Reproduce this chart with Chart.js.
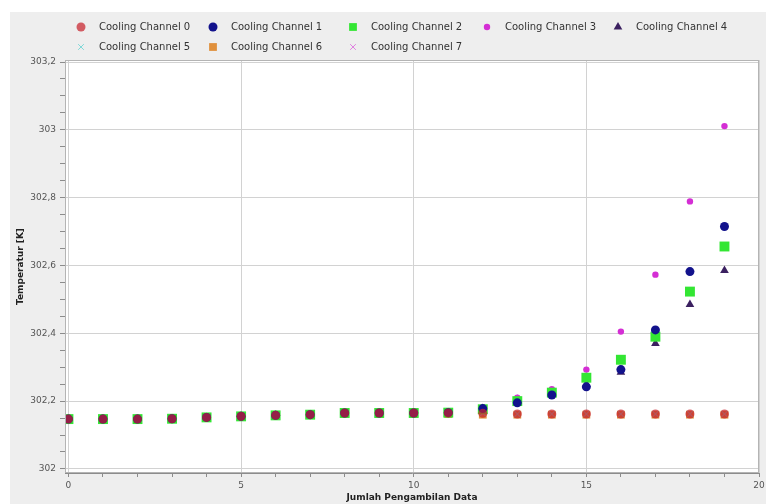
<!DOCTYPE html>
<html>
<head>
<meta charset="utf-8">
<script src="https://cdn.jsdelivr.net/npm/chart.js@4/dist/chart.umd.min.js"></script>
<style>
  html, body { margin: 0; padding: 0; background: #fff; }
  canvas { display: block; }
</style>
</head>
<body>
<canvas id="tempChart" width="766" height="504"></canvas>
<script>
// Pengambilan data ke-0 .. ke-19
const sampleIndex = [0, 1, 2, 3, 4, 5, 6, 7, 8, 9, 10, 11, 12, 13, 14, 15, 16, 17, 18, 19];

// Temperatur tiap channel [K]
const channel0 = [302.147, 302.147, 302.147, 302.148, 302.152, 302.155, 302.158, 302.16, 302.165, 302.165, 302.165, 302.165, 302.164, 302.162, 302.162, 302.162, 302.162, 302.162, 302.162, 302.162];
const channel1 = [302.147, 302.147, 302.147, 302.148, 302.152, 302.155, 302.158, 302.16, 302.165, 302.165, 302.165, 302.166, 302.178, 302.195, 302.218, 302.242, 302.293, 302.41, 302.582, 302.715];
const channel2 = [302.147, 302.147, 302.147, 302.148, 302.152, 302.155, 302.158, 302.16, 302.165, 302.165, 302.165, 302.166, 302.176, 302.2, 302.225, 302.269, 302.322, 302.39, 302.523, 302.656];
const channel3 = [302.147, 302.147, 302.147, 302.148, 302.152, 302.155, 302.158, 302.16, 302.165, 302.165, 302.165, 302.166, 302.18, 302.21, 302.235, 302.293, 302.405, 302.573, 302.789, 303.011];
const channel4 = [302.147, 302.147, 302.147, 302.148, 302.152, 302.155, 302.158, 302.16, 302.165, 302.165, 302.165, 302.166, 302.178, 302.205, 302.228, 302.25, 302.285, 302.37, 302.485, 302.585];
const channel5 = [302.147, 302.147, 302.147, 302.148, 302.152, 302.155, 302.158, 302.16, 302.165, 302.165, 302.165, 302.165, 302.164, 302.162, 302.162, 302.162, 302.162, 302.162, 302.162, 302.162];
const channel6 = [302.147, 302.147, 302.147, 302.148, 302.152, 302.155, 302.158, 302.16, 302.162, 302.162, 302.162, 302.162, 302.16, 302.16, 302.16, 302.16, 302.16, 302.16, 302.16, 302.16];
const channel7 = [302.147, 302.147, 302.147, 302.148, 302.152, 302.155, 302.158, 302.16, 302.165, 302.165, 302.165, 302.165, 302.164, 302.162, 302.162, 302.162, 302.162, 302.162, 302.162, 302.162];

const channelNames = ['Cooling Channel 0', 'Cooling Channel 1', 'Cooling Channel 2', 'Cooling Channel 3',
  'Cooling Channel 4', 'Cooling Channel 5', 'Cooling Channel 6', 'Cooling Channel 7'];

// Tick sumbu
const xTickValues = [0, 1, 2, 3, 4, 5, 6, 7, 8, 9, 10, 11, 12, 13, 14, 15, 16, 17, 18, 19, 20];
const xTickLabels = ['0', '', '', '', '', '5', '', '', '', '', '10', '', '', '', '', '15', '', '', '', '', '20'];
const yTickValues = [302, 302.05, 302.1, 302.15, 302.2, 302.25, 302.3, 302.35, 302.4, 302.45, 302.5, 302.55,
  302.6, 302.65, 302.7, 302.75, 302.8, 302.85, 302.9, 302.95, 303, 303.05, 303.1, 303.15, 303.2];
const yTickLabels = ['302', '', '', '', '302,2', '', '', '', '302,4', '', '', '', '302,6', '', '', '',
  '302,8', '', '', '', '303', '', '', '', '303,2'];

const toPoints = (vals) => vals.map((v, i) => ({ x: sampleIndex[i], y: v }));

// gaya penanda per channel
const styles = [
  { color: 'rgba(200, 35, 45, 0.72)', pointStyle: 'circle', radius: 4.5 },
  { color: '#12128c', pointStyle: 'circle', radius: 4.5 },
  { color: '#33e633', pointStyle: 'rect', radius: 7 },
  { color: '#d42ed4', pointStyle: 'circle', radius: 3.2 },
  { color: '#3b2060', pointStyle: 'triangle', radius: 5 },
  { color: '#7fd8d8', pointStyle: 'crossRot', radius: 4 },
  { color: '#e0903c', pointStyle: 'rect', radius: 5.5 },
  { color: '#e080e0', pointStyle: 'crossRot', radius: 4 }
];
const allChannels = [channel0, channel1, channel2, channel3, channel4, channel5, channel6, channel7];

const datasets = allChannels.map((vals, i) => ({
  label: channelNames[i],
  data: toPoints(vals),
  showLine: false,
  pointStyle: styles[i].pointStyle,
  pointRadius: styles[i].radius,
  pointHoverRadius: styles[i].radius,
  pointBackgroundColor: styles[i].color,
  pointBorderColor: styles[i].color,
  pointBorderWidth: styles[i].pointStyle === 'crossRot' ? 1.2 : 0,
  backgroundColor: styles[i].color,
  borderColor: styles[i].color
}));

// latar abu-abu + area plot putih + bingkai
const backgroundPlugin = {
  id: 'bg',
  beforeDraw(chart) {
    const { ctx, chartArea: a } = chart;
    ctx.save();
    ctx.fillStyle = '#ffffff';
    ctx.fillRect(0, 0, chart.width, chart.height);
    ctx.fillStyle = '#eeeeee';
    ctx.fillRect(10, 12, chart.width - 10, chart.height - 12);
    ctx.fillStyle = '#ffffff';
    ctx.fillRect(a.left, a.top, a.right - a.left, a.bottom - a.top);
    ctx.restore();
  },
  afterDraw(chart) {
    const { ctx, chartArea: a } = chart;
    ctx.save();
    ctx.strokeStyle = '#b4b4b4';
    ctx.lineWidth = 1;
    ctx.strokeRect(a.left + 0.5, a.top + 0.5, a.right - a.left - 1, a.bottom - a.top - 1);
    ctx.restore();
  }
};

// legenda dua baris seperti tabel
const legendPlugin = {
  id: 'tableLegend',
  afterDraw(chart) {
    const { ctx } = chart;
    const colX = [81, 213, 353, 487, 618];
    ctx.save();
    ctx.font = '10px "DejaVu Sans", sans-serif';
    ctx.textBaseline = 'middle';
    ctx.textAlign = 'left';
    chart.data.datasets.forEach((ds, i) => {
      const x = colX[i % 5];
      const y = 27 + Math.floor(i / 5) * 20;
      const s = styles[i];
      ctx.fillStyle = s.color;
      ctx.strokeStyle = s.color;
      Chart.helpers.drawPoint(ctx, {
        pointStyle: s.pointStyle,
        radius: Math.min(s.radius, 5.5),
        rotation: 0,
        borderWidth: s.pointStyle === 'crossRot' ? 1.2 : 0
      }, x, y);
      ctx.fillStyle = '#333333';
      ctx.fillText(ds.label, x + 18, y);
    });
    ctx.restore();
  }
};

new Chart(document.getElementById('tempChart'), {
  type: 'scatter',
  data: { datasets },
  options: {
    responsive: false,
    animation: false,
    layout: { padding: { left: 10, top: 60, right: 5, bottom: 0 } },
    plugins: {
      legend: { display: false },
      tooltip: { enabled: false }
    },
    scales: {
      x: {
        type: 'linear',
        min: -0.1,
        max: 20,
        afterBuildTicks: (scale) => { scale.ticks = xTickValues.map(v => ({ value: v })); },
        afterFit: (scale) => { scale.height = 31; scale.paddingRight = 0; },
        ticks: {
          autoSkip: false,
          maxRotation: 0,
          padding: 3,
          color: '#555555',
          font: { family: 'DejaVu Sans', size: 9 },
          callback: (v) => xTickLabels[xTickValues.indexOf(v)] ?? ''
        },
        grid: {
          color: (c) => (c.tick && c.tick.value % 5 === 0 ? '#d2d2d2' : 'rgba(0,0,0,0)'),
          tickColor: '#8c8c8c',
          tickLength: 4,
          lineWidth: 1
        },
        border: { color: '#8c8c8c', width: 1 },
        title: {
          display: true,
          text: 'Jumlah Pengambilan Data',
          color: '#222222',
          font: { family: 'DejaVu Sans', size: 9, weight: 'bold' },
          padding: { top: 1, bottom: 1 }
        }
      },
      y: {
        type: 'linear',
        min: 301.988,
        max: 303.206,
        afterBuildTicks: (scale) => { scale.ticks = yTickValues.map(v => ({ value: v })); },
        afterFit: (scale) => { scale.width = 55; },
        ticks: {
          autoSkip: false,
          padding: 4,
          color: '#555555',
          font: { family: 'DejaVu Sans', size: 9 },
          callback: (v) => {
            const k = yTickValues.findIndex(t => Math.abs(t - v) < 1e-6);
            return k >= 0 ? yTickLabels[k] : '';
          }
        },
        grid: {
          color: (c) => {
            const k = c.tick ? yTickValues.findIndex(t => Math.abs(t - c.tick.value) < 1e-6) : -1;
            return k >= 0 && yTickLabels[k] !== '' ? '#d2d2d2' : 'rgba(0,0,0,0)';
          },
          tickColor: '#8c8c8c',
          tickLength: 5,
          lineWidth: 1
        },
        border: { color: '#8c8c8c', width: 1 },
        title: {
          display: true,
          text: 'Temperatur [K]',
          color: '#222222',
          font: { family: 'DejaVu Sans', size: 9, weight: 'bold' },
          padding: { top: 5, bottom: 1 }
        }
      }
    }
  },
  plugins: [backgroundPlugin, legendPlugin]
});
</script>
</body>
</html>
